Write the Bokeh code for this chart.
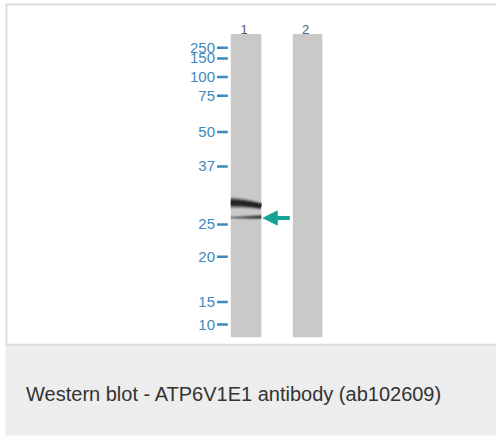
from bokeh.plotting import figure
from bokeh.models import Range1d, Arrow, NormalHead, ColumnDataSource
from bokeh.core.properties import value
from bokeh.embed import file_html
from bokeh.resources import INLINE

# ---- data read from the blot ----
marker_labels = ["250", "150", "100", "75", "50", "37", "25", "20", "15", "10"]
marker_migration = [48, 59, 78, 97, 134, 169, 228, 261, 307, 330]   # migration (px from image top)
lane_names = ["1", "2"]
lane_left = [234, 297]
lane_right = [265, 327]
lane_top = 34
lane_bottom = 343
# bands in lane 1: migration at left edge / right edge, thickness at left / right, darkness
band_y_left = [206.0, 221.0]
band_y_right = [209.5, 220.5]
band_w_left = [8.0, 3.0]
band_w_right = [5.5, 4.0]
band_strength = [1.0, 0.6]
caption = "Western blot - ATP6V1E1 antibody (ab102609)"

W, H = 496, 436
p = figure(width=W, height=H, x_range=Range1d(0, 504), y_range=Range1d(444, 0),
           output_backend="svg", toolbar_location=None, min_border=0,
           x_axis_location=None, y_axis_location=None, outline_line_color=None)
p.grid.visible = False
p.background_fill_color = "white"
p.border_fill_color = "white"

# panel borders
p.line(x=[6, 6], y=[3, 350], line_color="#dddddd", line_width=2)
p.line(x=[5, 504], y=[4, 4], line_color="#dddddd", line_width=2)
# caption box
p.quad(left=[5], right=[504], top=[351], bottom=[443], fill_color="#ecedec", line_color=None)
p.line(x=[5, 504], y=[350.5, 350.5], line_color="#dddddd", line_width=2)

# lanes
p.quad(left=lane_left, right=lane_right, top=[lane_top] * 2, bottom=[lane_bottom] * 2,
       fill_color="#c9c9c9", line_color=None)
lane_cx = [(a + b) / 2 - 2 for a, b in zip(lane_left, lane_right)]
p.text(x=lane_cx, y=[29.5] * 2, text=lane_names, text_font=value("Liberation Sans"),
       text_font_size="13px", text_color="#55606c", text_align="center",
       text_baseline="alphabetic")

# markers
blue = "#4089be"
src = ColumnDataSource(dict(y=marker_migration, t=marker_labels))
p.text(x=218, y="y", text="t", source=src, text_font=value("Liberation Sans"),
       text_font_size="15px", text_color=blue, text_align="right", text_baseline="middle")
p.segment(x0=220, x1=231, y0="y", y1="y", source=src, line_color=blue, line_width=2.5)

# bands (layered for soft edges)
x0, x1 = lane_left[0], lane_right[0]
for yl, yr, wl, wr, s in zip(band_y_left, band_y_right, band_w_left, band_w_right, band_strength):
    n = 10
    xs = [x0 + (x1 - x0) * i / n for i in range(n + 1)]
    ys = [yl + (yr - yl) * (i / n) ** 2 for i in range(n + 1)]
    for i in range(n):
        t = i / (n - 1)
        w = wl + (wr - wl) * t
        fade = (0.35 + 0.65 * t) if s < 1 else 1.0
        for k, a in [(1.6, 0.15), (1.25, 0.25), (0.95, 0.45), (0.6, 0.7)]:
            p.line(x=xs[i:i + 2], y=ys[i:i + 2], line_color="#111111",
                   line_width=w * k, line_alpha=a * s * fade)

# arrow pointing at the lower band
teal = "#16a296"
ay = band_y_right[1] + 1
p.add_layout(Arrow(end=NormalHead(size=14, fill_color=teal, line_color=teal),
                   x_start=x1 + 29, y_start=ay, x_end=x1 + 2, y_end=ay,
                   line_color=teal, line_width=4))

# caption
p.text(x=[26], y=[400.5], text=[caption], text_font=value("Liberation Sans"),
       text_font_size="20px", text_color="#333333", text_baseline="alphabetic")

open("out.html", "w").write(file_html(p, INLINE))
